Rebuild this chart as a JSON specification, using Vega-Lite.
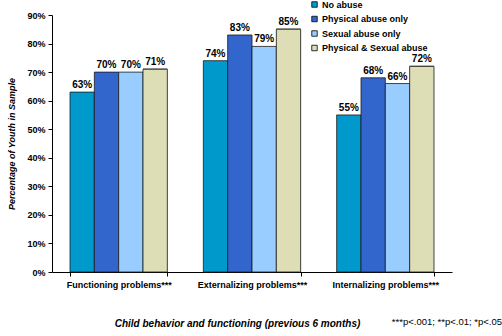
{
  "$schema": "https://vega.github.io/schema/vega-lite/v6.json",
  "width": 400,
  "height": 257,
  "autosize": "none",
  "padding": {"left": 52, "top": 15, "right": 50, "bottom": 64},
  "background": "white",
  "config": {
    "view": {"stroke": null},
    "font": "Liberation Sans"
  },
  "title": {
    "text": "***p<.001; **p<.01; *p<.05",
    "orient": "bottom",
    "anchor": "end",
    "font": "Liberation Sans",
    "fontSize": 9.5,
    "fontWeight": "normal",
    "color": "#000000",
    "offset": -11,
    "dx": 50
  },
  "data": {
    "values": [
      {"measure": "Functioning problems***", "group": "No abuse", "pct": 63},
      {"measure": "Functioning problems***", "group": "Physical abuse only", "pct": 70},
      {"measure": "Functioning problems***", "group": "Sexual abuse only", "pct": 70},
      {"measure": "Functioning problems***", "group": "Physical & Sexual abuse", "pct": 71},
      {"measure": "Externalizing problems***", "group": "No abuse", "pct": 74},
      {"measure": "Externalizing problems***", "group": "Physical abuse only", "pct": 83},
      {"measure": "Externalizing problems***", "group": "Sexual abuse only", "pct": 79},
      {"measure": "Externalizing problems***", "group": "Physical & Sexual abuse", "pct": 85},
      {"measure": "Internalizing problems***", "group": "No abuse", "pct": 55},
      {"measure": "Internalizing problems***", "group": "Physical abuse only", "pct": 68},
      {"measure": "Internalizing problems***", "group": "Sexual abuse only", "pct": 66},
      {"measure": "Internalizing problems***", "group": "Physical & Sexual abuse", "pct": 72}
    ]
  },
  "encoding": {
    "x": {
      "field": "measure",
      "type": "nominal",
      "sort": ["Functioning problems***", "Externalizing problems***", "Internalizing problems***"],
      "scale": {"paddingInner": 0.27, "paddingOuter": 0.135},
      "axis": {
        "title": "Child behavior and functioning (previous 6 months)",
        "titleFont": "Liberation Sans",
        "titleFontSize": 10,
        "titleFontWeight": "bold",
        "titleFontStyle": "italic",
        "titleColor": "#000000",
        "titleX": 185,
        "titleY": 46,
        "labelAngle": 0,
        "labelFont": "Liberation Sans",
        "labelFontSize": 9,
        "labelFontWeight": "bold",
        "labelColor": "#000000",
        "labelPadding": 4,
        "domainColor": "#000000",
        "tickColor": "#000000",
        "tickSize": 4,
        "tickBand": "extent",
        "grid": false
      }
    },
    "xOffset": {
      "field": "group",
      "type": "nominal",
      "sort": ["No abuse", "Physical abuse only", "Sexual abuse only", "Physical & Sexual abuse"]
    },
    "y": {
      "field": "pct",
      "type": "quantitative",
      "scale": {"domain": [0, 90], "nice": false},
      "axis": {
        "title": "Percentage of Youth in Sample",
        "titleFont": "Liberation Sans",
        "titleFontSize": 9,
        "titleFontWeight": "bold",
        "titleFontStyle": "italic",
        "titleColor": "#000000",
        "titlePadding": 10,
        "values": [0, 10, 20, 30, 40, 50, 60, 70, 80, 90],
        "labelExpr": "datum.value + '%'",
        "labelFont": "Liberation Sans",
        "labelFontSize": 9,
        "labelFontWeight": "bold",
        "labelColor": "#000000",
        "labelPadding": 3,
        "domainColor": "#000000",
        "tickColor": "#000000",
        "tickSize": 4,
        "grid": false
      }
    }
  },
  "layer": [
    {
      "transform": [{"filter": "datum.group === 'Physical & Sexual abuse'"}],
      "mark": {"type": "bar", "color": "#8c8c8c", "xOffset": 2, "yOffset": -1},
      "encoding": {}
    },
    {
      "mark": {"type": "bar", "stroke": "#1a1a1a", "strokeWidth": 0.8},
      "encoding": {
        "color": {
          "field": "group",
          "type": "nominal",
          "sort": ["No abuse", "Physical abuse only", "Sexual abuse only", "Physical & Sexual abuse"],
          "scale": {
            "domain": ["No abuse", "Physical abuse only", "Sexual abuse only", "Physical & Sexual abuse"],
            "range": ["#0099CC", "#3366CC", "#99CCFF", "#DDDDB6"]
          },
          "legend": {
            "title": null,
            "orient": "none",
            "legendX": 258,
            "legendY": -15,
            "symbolType": "square",
            "symbolSize": 30,
            "symbolStrokeColor": "#000000",
            "symbolStrokeWidth": 0.8,
            "labelFont": "Liberation Sans",
            "labelFontSize": 9,
            "labelFontWeight": "bold",
            "labelColor": "#000000",
            "labelOffset": 3,
            "rowPadding": 4.5
          }
        }
      }
    },
    {
      "mark": {
        "type": "text",
        "dy": -7,
        "font": "Liberation Sans",
        "fontSize": 10,
        "fontWeight": "bold",
        "color": "#000000",
        "text": {"expr": "datum.pct + '%'"}
      },
      "encoding": {}
    }
  ]
}
